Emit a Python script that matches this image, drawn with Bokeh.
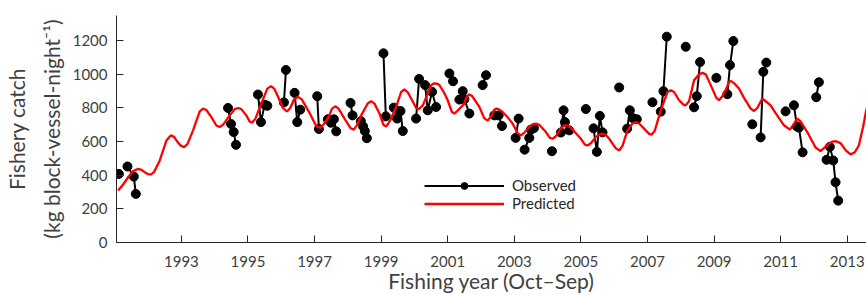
import math
from bokeh.plotting import figure
from bokeh.models import FixedTicker, Legend, LegendItem, LinearAxis
from bokeh.embed import file_html
from bokeh.resources import INLINE

nan = float("nan")

# Observed catch (fishing-year seasons; NaN separates unconnected runs)
obs_year = [
    1991.12, nan,
    1991.38, 1991.57, 1991.63, nan,
    1994.40, 1994.49, 1994.57, 1994.64, nan,
    1995.30, 1995.39, 1995.50, 1995.58, nan,
    1996.08, 1996.14, nan,
    1996.40, 1996.48, 1996.57, nan,
    1997.08, 1997.13, nan,
    1997.40, 1997.49, 1997.58, 1997.65, nan,
    1998.08, 1998.14, nan,
    1998.39, 1998.46, 1998.51, 1998.57, nan,
    1999.07, 1999.14, nan,
    1999.38, 1999.48, 1999.58, 1999.65, nan,
    2000.05, 2000.14, nan,
    2000.32, 2000.40, 2000.53, 2000.65, nan,
    2001.05, 2001.16, nan,
    2001.35, 2001.45, 2001.50, 2001.65, nan,
    2002.05, 2002.15, nan,
    2002.40, 2002.53, 2002.63, nan,
    2003.04, 2003.13, nan,
    2003.31, 2003.45, 2003.50, 2003.59, nan,
    2004.13, nan,
    2004.40, 2004.48, 2004.52, 2004.65, nan,
    2005.15, nan,
    2005.38, 2005.48, 2005.57, 2005.65, nan,
    2006.15, nan,
    2006.39, 2006.47, 2006.56, 2006.68, nan,
    2007.15, nan,
    2007.40, 2007.48, 2007.58, nan,
    2008.15, nan,
    2008.40, 2008.48, 2008.58, nan,
    2009.07, nan,
    2009.40, 2009.48, 2009.58, nan,
    2010.15, nan,
    2010.40, 2010.48, 2010.57, nan,
    2011.15, nan,
    2011.40, 2011.49, 2011.55, 2011.66, nan,
    2012.07, 2012.15, nan,
    2012.38, 2012.48, 2012.58, 2012.65, 2012.73,
]
obs_catch = [
    408, nan,
    452, 392, 289, nan,
    800, 705, 657, 581, nan,
    880, 716, 820, 813, nan,
    833, 1026, nan,
    890, 716, 790, nan,
    870, 675, nan,
    733, 712, 733, 661, nan,
    830, 756, nan,
    722, 690, 663, 620, nan,
    1125, 750, nan,
    802, 737, 782, 663, nan,
    737, 973, nan,
    936, 786, 896, 806, nan,
    1005, 959, nan,
    850, 900, 852, 767, nan,
    936, 995, nan,
    756, 756, 693, nan,
    622, 737, nan,
    552, 622, 671, 680, nan,
    543, nan,
    654, 786, 716, 667, nan,
    794, nan,
    679, 539, 753, 655, nan,
    922, nan,
    677, 786, 740, 733, nan,
    834, nan,
    778, 900, 1224, nan,
    1164, nan,
    804, 870, 1073, nan,
    979, nan,
    882, 1055, 1198, nan,
    703, nan,
    625, 1015, 1070, nan,
    780, nan,
    816, 690, 683, 536, nan,
    864, 953, nan,
    492, 569, 488, 358, 249,
]

# Predicted catch
pred_year = [
    1991.10, 1991.25, 1991.40, 1991.55, 1991.70, 1991.80, 1991.90, 1992.00, 1992.08,
    1992.18, 1992.35, 1992.55, 1992.68, 1992.78, 1992.85, 1992.98, 1993.08,
    1993.18, 1993.35, 1993.55, 1993.65, 1993.75, 1993.90, 1994.05, 1994.15,
    1994.25, 1994.45, 1994.60, 1994.70, 1994.80, 1994.95, 1995.05, 1995.12,
    1995.22, 1995.40, 1995.58, 1995.69, 1995.79, 1995.91, 1996.05, 1996.17,
    1996.27, 1996.38, 1996.50, 1996.62, 1996.84, 1997.05, 1997.17,
    1997.28, 1997.42, 1997.52, 1997.62, 1997.72, 1997.90, 1998.08, 1998.18,
    1998.28, 1998.40, 1998.60, 1998.70, 1998.80, 1998.95, 1999.07, 1999.15,
    1999.27, 1999.45, 1999.60, 1999.70, 1999.80, 1999.93, 2000.05, 2000.13,
    2000.25, 2000.38, 2000.50, 2000.58, 2000.68, 2000.75, 2000.88, 2001.00, 2001.12, 2001.20,
    2001.30, 2001.50, 2001.55, 2001.63, 2001.73, 2001.95, 2002.10, 2002.20,
    2002.30, 2002.40, 2002.47, 2002.55, 2002.65, 2002.80, 2002.95, 2003.10, 2003.20,
    2003.30, 2003.40, 2003.55, 2003.65, 2003.75, 2003.95, 2004.07, 2004.15,
    2004.25, 2004.38, 2004.50, 2004.60, 2004.70, 2004.85, 2005.00, 2005.12, 2005.20,
    2005.30, 2005.45, 2005.57, 2005.65, 2005.75, 2005.85, 2006.05, 2006.15,
    2006.25, 2006.40, 2006.55, 2006.65, 2006.75, 2006.90, 2007.05, 2007.12,
    2007.22, 2007.40, 2007.60, 2007.70, 2007.80, 2007.95, 2008.08, 2008.15,
    2008.25, 2008.40, 2008.55, 2008.65, 2008.75, 2008.90, 2009.07, 2009.15,
    2009.25, 2009.35, 2009.45, 2009.50, 2009.60, 2009.75, 2009.90, 2010.10, 2010.20,
    2010.30, 2010.45, 2010.55, 2010.70, 2010.85, 2011.10, 2011.28,
    2011.38, 2011.50, 2011.60, 2011.80, 2012.05, 2012.20,
    2012.32, 2012.45, 2012.55, 2012.65, 2012.80, 2012.95, 2013.10,
    2013.22, 2013.35, 2013.48, 2013.58,
]
pred_catch = [
    309, 345, 388, 425, 438, 432, 418, 406, 404,
    420, 488, 607, 637, 628, 607, 576, 567,
    585, 667, 780, 796, 788, 746, 696, 687,
    700, 756, 793, 800, 793, 756, 720, 712,
    735, 826, 915, 930, 915, 864, 800, 779,
    800, 850, 866, 850, 774, 692, 682,
    705, 746, 795, 810, 796, 737, 680, 671,
    700, 756, 828, 840, 826, 767, 700, 689,
    725, 806, 895, 910, 893, 846, 800, 793,
    815, 876, 935, 946, 944, 936, 895, 846, 778, 767,
    785, 826, 860, 881, 872, 806, 738, 725,
    750, 790, 796, 790, 776, 745, 707, 650, 637,
    652, 677, 703, 707, 700, 657, 622, 617,
    632, 675, 697, 695, 683, 650, 617, 582, 577,
    590, 627, 645, 647, 640, 617, 560, 547,
    575, 667, 708, 716, 708, 677, 646, 641,
    665, 786, 895, 906, 895, 846, 820, 816,
    840, 965, 1000, 1009, 1000, 936, 860, 846,
    870, 906, 955, 961, 948, 916, 860, 796, 782,
    800, 856, 840, 816, 770, 697, 671,
    700, 737, 720, 657, 565, 543,
    565, 587, 600, 603, 591, 550, 524,
    535, 577, 690, 796,
]

x_ticks = [1993, 1995, 1997, 1999, 2001, 2003, 2005, 2007, 2009, 2011, 2013]
y_ticks = [0, 200, 400, 600, 800, 1000, 1200]

FONT = "Lato"
TXT = "#404040"
AX = "#262626"

p = figure(width=866, height=295, x_range=(1991.05, 2013.58), y_range=(0, 1350),
           output_backend="svg", toolbar_location=None,
           min_border_left=115, min_border_right=0, min_border_top=15, min_border_bottom=53)
p.outline_line_color = None
p.grid.visible = False
p.background_fill_color = "white"

for ax in (p.xaxis[0], p.yaxis[0]):
    ax.axis_line_color = AX
    ax.major_tick_line_color = AX
    ax.major_tick_in = 7
    ax.major_tick_out = 0
    ax.minor_tick_line_color = None
    ax.major_label_text_font = FONT
    ax.major_label_text_font_size = "15px"
    ax.major_label_text_color = TXT
    ax.axis_label_text_font = FONT
    ax.axis_label_text_font_size = "21px"
    ax.axis_label_text_font_style = "normal"
    ax.axis_label_text_color = TXT

p.xaxis.ticker = FixedTicker(ticks=x_ticks)
p.yaxis.ticker = FixedTicker(ticks=y_ticks)
p.xaxis.major_label_standoff = 13
p.yaxis.major_label_standoff = 9
p.xaxis.axis_label = "Fishing year (Oct\u2013Sep)"
p.xaxis.axis_label_standoff = -2
p.yaxis.axis_label = "(kg block-vessel-night\u207b\u00b9)"
p.yaxis.axis_label_standoff = 6

# outer left axis carrying only the first line of the y title
ax_title = LinearAxis(ticker=FixedTicker(ticks=[]), axis_label="Fishery catch",
                      axis_line_color=None, major_tick_line_color=None, minor_tick_line_color=None,
                      major_label_text_font_size="0px", major_label_standoff=0,
                      axis_label_standoff=7, axis_label_text_font=FONT,
                      axis_label_text_font_size="21px", axis_label_text_font_style="normal",
                      axis_label_text_color=TXT)
p.add_layout(ax_title, "left")

r_obs_line = p.line(obs_year, obs_catch, line_color="black", line_width=2)
r_obs_pts = p.scatter(obs_year, obs_catch, size=9, fill_color="black", line_color="black")
r_pred = p.line(pred_year, pred_catch, line_color="#ff0000", line_width=2.3)

legend = Legend(items=[LegendItem(label="Observed", renderers=[r_obs_line, r_obs_pts]),
                       LegendItem(label="Predicted", renderers=[r_pred])],
                location=(308, 30), orientation="vertical",
                glyph_width=80, glyph_height=17, label_height=17, label_width=60,
                label_standoff=8, spacing=-2, padding=0, margin=0,
                border_line_color=None, background_fill_alpha=0,
                label_text_font=FONT, label_text_font_size="15px", label_text_color="#262626")
p.add_layout(legend, "center")

open("out.html", "w").write(file_html(p, INLINE))
